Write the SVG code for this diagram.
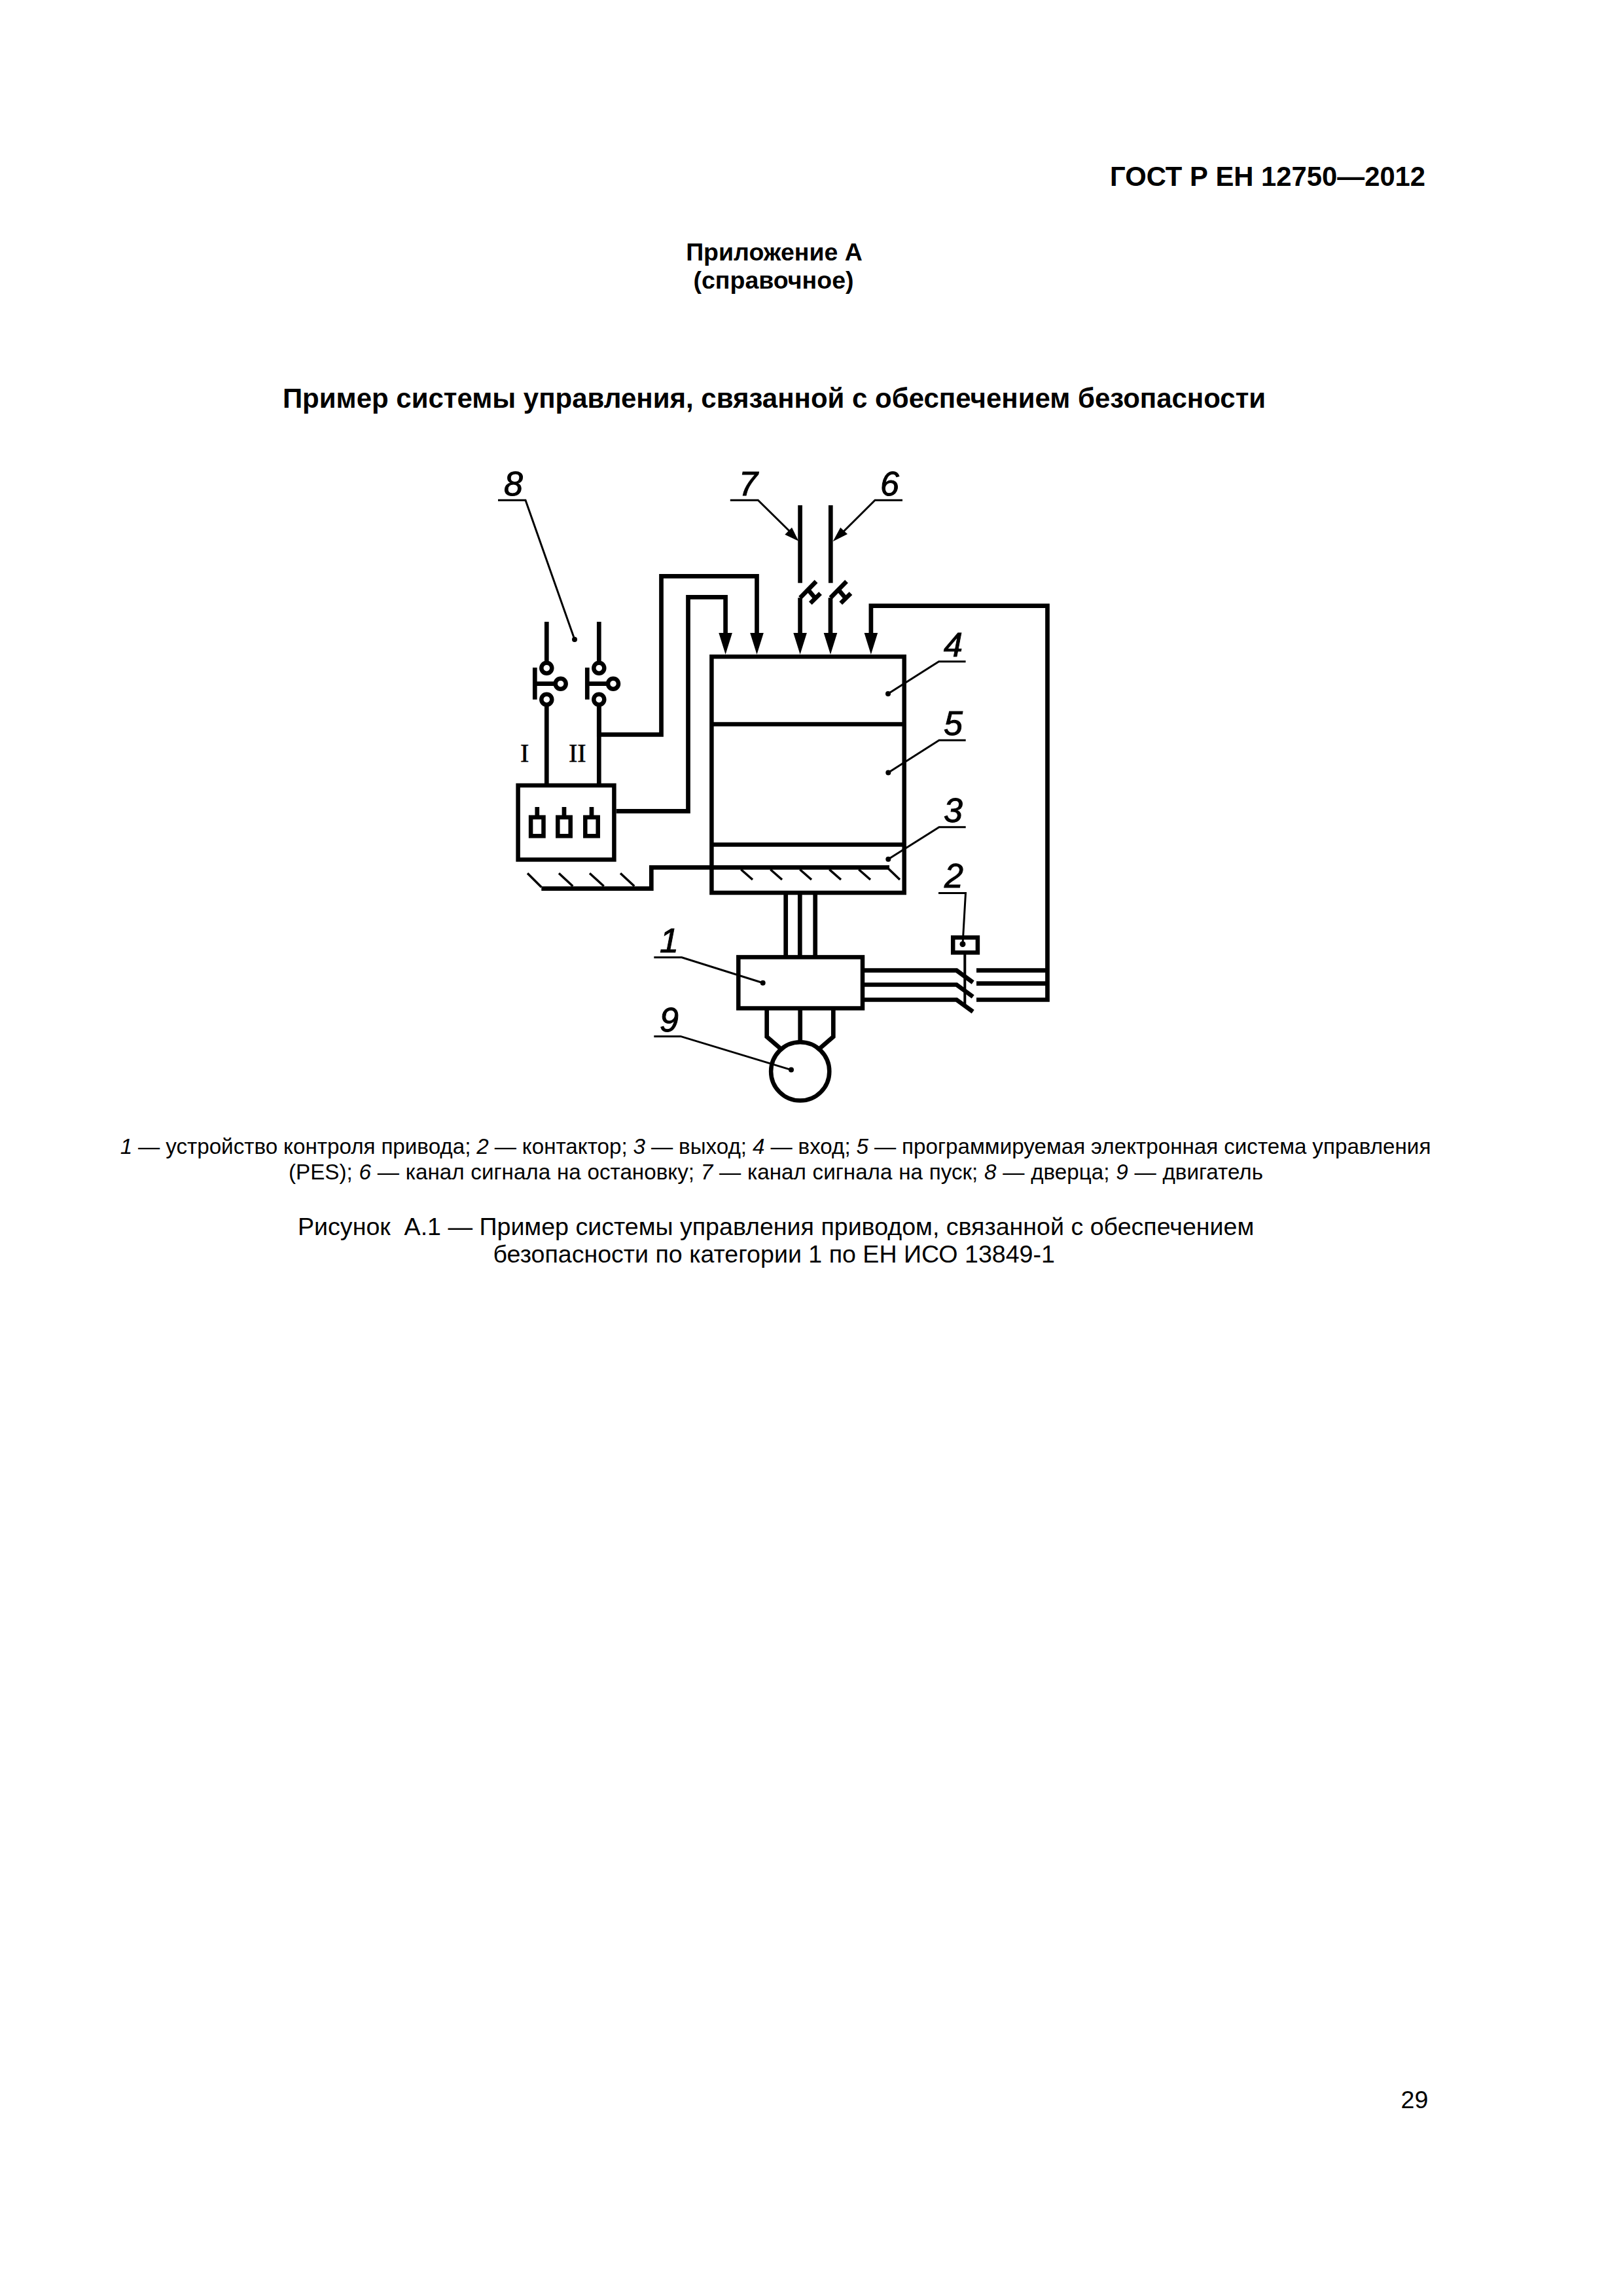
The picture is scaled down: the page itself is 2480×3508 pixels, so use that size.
<svg xmlns="http://www.w3.org/2000/svg" width="2480" height="3508" viewBox="0 0 2480 3508">
<style>
text{font-family:"Liberation Sans",Arial,sans-serif;fill:#000}
.b{font-weight:bold;font-size:41.8px}
.h{font-size:37.5px;font-weight:bold;text-anchor:middle}
.tt{font-size:42px;font-weight:bold;text-anchor:middle}
.leg{font-size:33.2px}
.cap{font-size:37.6px}
.i{font-style:italic}
.n{font-style:italic;font-size:52px;stroke:#000;stroke-width:1}
.r{font-family:"Liberation Serif","Times New Roman",serif;font-size:40px;stroke:#000;stroke-width:.6}
.w{fill:none;stroke:#000;stroke-width:6.7;stroke-linejoin:miter}
.t{fill:none;stroke:#000;stroke-width:3}
.th{fill:none;stroke:#000;stroke-width:3.5}
.box{fill:none;stroke:#000;stroke-width:6.5}
.c{fill:#fff;stroke:#000;stroke-width:6.5}
.d{fill:#000}
</style>
<defs>
<marker id="arr" markerUnits="userSpaceOnUse" markerWidth="40" markerHeight="30" refX="1" refY="15" orient="auto" viewBox="0 0 40 30"><path d="M0 4.7L33 15L0 25.3Z" fill="#000"/></marker>
<g id="coil"><rect x="-9.7" y="3.7" width="19.4" height="28.6" class="box"/><path d="M0 -12V1" class="w"/></g>
<g id="contact"><path class="w" d="M0 0L24.5 -25M12.2 -12.3L22.6 0M15.7 8.4L31 -6.6"/></g>
</defs>
<rect width="2480" height="3508" fill="#fff"/>

<g id="page-text">
<text class="b" x="1696" y="284">ГОСТ Р ЕН 12750—2012</text>
<text class="h" x="1183" y="397.7">Приложение А</text>
<text class="h" x="1182" y="440.7">(справочное)</text>
<text class="tt" x="1183" y="622.7">Пример системы управления, связанной с обеспечением безопасности</text>
<text class="leg" x="183.7" y="1763.3" word-spacing="-0.3"><tspan class="i">1</tspan> — устройство контроля привода; <tspan class="i">2</tspan> — контактор; <tspan class="i">3</tspan> — выход; <tspan class="i">4</tspan> — вход; <tspan class="i">5</tspan> — программируемая электронная система управления</text>
<text class="leg" x="441" y="1801.7" word-spacing="0.55">(PES); <tspan class="i">6</tspan> — канал сигнала на остановку; <tspan class="i">7</tspan> — канал сигнала на пуск; <tspan class="i">8</tspan> — дверца; <tspan class="i">9</tspan> — двигатель</text>
<text class="cap" x="455" y="1886.7" xml:space="preserve">Рисунок  А.1 — Пример системы управления приводом, связанной с обеспечением</text>
<text class="cap" x="753.5" y="1929.3">безопасности по категории 1 по ЕН ИСО 13849-1</text>
<text class="cap" x="2140.5" y="3221">29</text>
</g>

<g id="connectors">
<path class="w" d="M915.3 1079V1122.3H1010.5V880.3H1156.5V968" marker-end="url(#arr)"/>
<path class="w" d="M941.7 1239.3H1051.5V912.3H1108.6V968" marker-end="url(#arr)"/>
<path class="w" d="M1222.6 772V890.7"/>
<path class="w" d="M1269.3 772V890.7"/>
<path class="w" d="M1222.6 968V913.3"/>
<path class="w" d="M1269 968V913.3"/>
<use href="#contact" x="1222.6" y="913.3"/>
<use href="#contact" x="1269" y="913.3"/>
<path class="w" d="M1222.6 967V968" marker-end="url(#arr)"/>
<path class="w" d="M1269 967V968" marker-end="url(#arr)"/>
<path class="w" d="M1492 1482.7H1600.5M1492 1502.6H1600.5M1492 1527.5H1600.5V925.7H1330.9V968" marker-end="url(#arr)"/>
<path class="w" d="M835.3 950V1010M835.3 1079V1200"/>
<path class="w" d="M915.3 950V1010M915.3 1079V1200"/>
<path class="w" d="M827.3 1357.6H995.3V1325.4H1359"/>
<path class="th" d="M806 1334.2L827.3 1355.6M854 1334.2L875.3 1354M901 1334.2L922.7 1354M948 1334.2L969.3 1354"/>
<path class="th" d="M1132.3 1328.5L1150 1344M1177.3 1328.5L1195 1344M1222.3 1328.5L1240 1344M1267.3 1328.5L1285 1344M1312.3 1328.5L1330 1344M1357.3 1327L1375 1344"/>
<path class="w" d="M1200.7 1364V1462M1222.3 1364V1462M1245.7 1364V1462"/>
<path class="w" d="M1320 1482.7H1461.7L1486.7 1501"/>
<path class="w" d="M1320 1504.5H1461.7L1486.7 1522.9"/>
<path class="w" d="M1320 1527.5H1461.7L1486.7 1545.8"/>
<path d="M1474.3 1458V1536.3" fill="none" stroke="#000" stroke-width="4"/>
<path class="w" d="M1171.7 1540.5V1584L1191.7 1601.3"/>
<path class="w" d="M1273.3 1540.5V1584L1253.3 1601.3"/>
<path class="w" d="M1222.7 1540.5V1590"/>
</g>

<g id="node-switch-1">
<circle class="c" cx="835.3" cy="1020.7" r="8"/>
<circle class="c" cx="835.3" cy="1068.7" r="8"/>
<path class="w" d="M817.3 1020V1068.7M817.3 1044.7H848"/>
<circle class="c" cx="856.7" cy="1044.7" r="8"/>
</g>
<g id="node-switch-2">
<circle class="c" cx="915.3" cy="1020.7" r="8"/>
<circle class="c" cx="915.3" cy="1068.7" r="8"/>
<path class="w" d="M897.3 1020V1068.7M897.3 1044.7H928"/>
<circle class="c" cx="937" cy="1044.7" r="8"/>
</g>
<g id="node-relay">
<rect class="box" x="791.6" y="1200" width="146.8" height="113.4"/>
<use href="#coil" x="820.8" y="1245"/>
<use href="#coil" x="862" y="1245"/>
<use href="#coil" x="904" y="1245"/>
</g>
<g id="node-pes">
<rect class="box" x="1087.4" y="1003.3" width="294.3" height="360.7"/>
<path class="box" d="M1087.4 1106.4H1381.7M1087.4 1290.6H1381.7"/>
</g>
<g id="node-drive"><rect class="box" x="1128.3" y="1462.4" width="189.7" height="78.1"/></g>
<g id="node-contactor"><rect class="box" x="1456.2" y="1432.4" width="37.7" height="23"/></g>
<g id="node-motor"><circle class="box" cx="1222.7" cy="1636.9" r="44.6"/></g>

<g id="labels">
<text class="r" x="795" y="1164">I</text>
<text class="r" x="869" y="1164">II</text>
<g id="leader-8"><text class="n" x="770" y="757">8</text><path class="t" d="M761 764.3H803L878 977"/><circle class="d" cx="878" cy="977" r="4"/></g>
<g id="leader-7"><text class="n" x="1129" y="757">7</text><path class="t" d="M1115.8 764.3H1158.3L1212 817"/><path class="d" d="M1220.3 826.7L1199.3 816.7L1210 806Z"/></g>
<g id="leader-6"><text class="n" x="1345" y="757">6</text><path class="t" d="M1379 764.3H1337L1285 816"/><path class="d" d="M1272.7 827.3L1284.2 806L1295 816Z"/></g>
<g id="leader-4"><text class="n" x="1442" y="1002.7">4</text><path class="t" d="M1475.6 1010.7H1434.6L1357 1060"/><circle class="d" cx="1357" cy="1060" r="4"/></g>
<g id="leader-5"><text class="n" x="1442" y="1123">5</text><path class="t" d="M1475.7 1131H1435L1357.3 1180.4"/><circle class="d" cx="1357.3" cy="1180.4" r="4"/></g>
<g id="leader-3"><text class="n" x="1442" y="1256">3</text><path class="t" d="M1475.7 1263.8H1435L1357.3 1312.8"/><circle class="d" cx="1357.3" cy="1312.8" r="4"/></g>
<g id="leader-2"><text class="n" x="1443" y="1355.6">2</text><path class="t" d="M1434 1364.4H1475.5L1471 1442.5"/><circle class="d" cx="1471" cy="1442.5" r="4.5"/></g>
<g id="leader-1"><text class="n" x="1008" y="1455">1</text><path class="t" d="M999.3 1462.8H1041.7L1165.7 1501.8"/><circle class="d" cx="1165.7" cy="1501.8" r="4"/></g>
<g id="leader-9"><text class="n" x="1008" y="1576.4">9</text><path class="t" d="M999.3 1583.4H1040L1209 1634.6"/><circle class="d" cx="1209" cy="1634.6" r="4"/></g>
</g>
</svg>
